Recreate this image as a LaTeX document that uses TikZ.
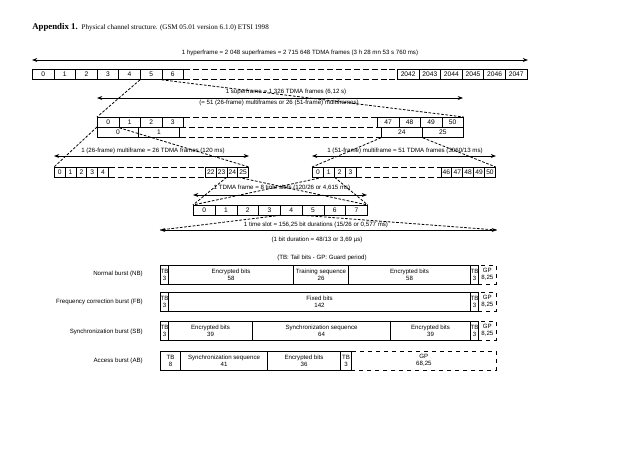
\documentclass[tikz,border=0pt]{standalone}
\usepackage{fontspec}
\setmainfont{Liberation Sans}
\newfontfamily\titlefont{Liberation Serif}
\usetikzlibrary{arrows.meta}

\newcommand{\lblfont}{\fontsize{4.6}{5.2}\selectfont}
\newcommand{\cellfont}{\fontsize{5}{5}\selectfont}

\tikzset{
  cellbox/.style={draw, line width=0.6pt, anchor=north west, inner sep=0pt,
    minimum width=#1*0.75pt, minimum height=10*0.75pt, font=\cellfont},
  burst/.style={cellbox=#1, line width=0.8pt, minimum height=18.5*0.75pt, align=center, font=\lblfont},
  gpbox/.style={burst=#1, line width=0.6pt, dashed},
  gapline/.style={line width=0.6pt, dash pattern=on 4.5pt off 2.2pt},
  zoomline/.style={line width=0.6pt, dash pattern=on 2pt off 1.2pt},
  span/.style={line width=0.6pt, {Stealth[length=4pt,width=3pt]}-{Stealth[length=4pt,width=3pt]}},
  lbl/.style={font=\lblfont, inner sep=0pt}
}

\begin{document}
\begin{tikzpicture}[x=0.75pt, y=-0.75pt]
\useasboundingbox (0,0) rectangle (638,451);
\node[anchor=west, inner sep=0pt] (title) at (32,27) {\titlefont{\fontsize{6.6}{7}\selectfont\bfseries Appendix 1.}\hspace{3pt}{\fontsize{5.3}{6}\selectfont Physical channel structure. (GSM 05.01 version 6.1.0) ETSI 1998}};

\node[lbl] (lblHyper) at (300,53) {1 hyperframe = 2 048 superframes = 2 715 648 TDMA frames (3 h 28 mn 53 s 760 ms)};
\coordinate (hypL) at (32,60);
\coordinate (hypR) at (528,60);
\draw[span] (hypL) -- (hypR);
\node[cellbox=21.6] (h0) at (32,69) {0};
\node[cellbox=21.6] (h1) at (53.6,69) {1};
\node[cellbox=21.6] (h2) at (75.2,69) {2};
\node[cellbox=21.6] (h3) at (96.8,69) {3};
\node[cellbox=21.6] (h4) at (118.4,69) {4};
\node[cellbox=21.6] (h5) at (140,69) {5};
\node[cellbox=21.6] (h6) at (161.6,69) {6};
\node[cellbox=21.6] (h2042) at (397,69) {2042};
\node[cellbox=21.6] (h2043) at (418.6,69) {2043};
\node[cellbox=21.6] (h2044) at (440.2,69) {2044};
\node[cellbox=21.6] (h2045) at (461.8,69) {2045};
\node[cellbox=21.6] (h2046) at (483.4,69) {2046};
\node[cellbox=21.6] (h2047) at (505,69) {2047};
\draw[gapline] (h6.north east) -- (h2042.north west);
\draw[gapline] (h6.south east) -- (h2042.south west);

\node[lbl] (lblSuper) at (286,92) {1 superframe = 1 326 TDMA frames (6,12 s)};
\node[lbl] (lblSuperEq) at (279,103) {(= 51 (26-frame) multiframes or 26 (51-frame) multiframes)};
\coordinate (supL) at (97,98);
\coordinate (supR) at (463,98);
\draw[span] (supL) -- (supR);
\node[cellbox=21.5] (s0) at (97,117) {0};
\node[cellbox=21.5] (s1) at (118.5,117) {1};
\node[cellbox=21.5] (s2) at (140,117) {2};
\node[cellbox=21.5] (s3) at (161.5,117) {3};
\node[cellbox=21.5] (s47) at (377,117) {47};
\node[cellbox=21.5] (s48) at (398.5,117) {48};
\node[cellbox=21.5] (s49) at (420,117) {49};
\node[cellbox=21.5] (s50) at (441.5,117) {50};
\node[cellbox=41] (t0) at (97,127) {0};
\node[cellbox=41] (t1) at (138,127) {1};
\node[cellbox=41] (t24) at (381,127) {24};
\node[cellbox=41] (t25) at (422,127) {25};
\draw[gapline] (s3.north east) -- (s47.north west);
\draw[gapline] (t1.north east) -- (t24.north west);
\draw[gapline] (t1.south east) -- (t24.south west);
\draw[zoomline] (h5.south west) -- (s0.north west);
\draw[zoomline] (h6.south west) -- (s50.north east);

\node[lbl] (lblMulti26) at (153,151) {1 (26-frame) multiframe = 26 TDMA frames (120 ms)};
\coordinate (m26L) at (54,156);
\coordinate (m26R) at (249,156);
\draw[span] (m26L) -- (m26R);
\node[cellbox=10.8, minimum height=9.5*0.75pt] (m0) at (54,167) {0};
\node[cellbox=10.8, minimum height=9.5*0.75pt] (m1) at (64.8,167) {1};
\node[cellbox=10.8, minimum height=9.5*0.75pt] (m2) at (75.6,167) {2};
\node[cellbox=10.8, minimum height=9.5*0.75pt] (m3) at (86.4,167) {3};
\node[cellbox=10.8, minimum height=9.5*0.75pt] (m4) at (97.2,167) {4};
\node[cellbox=10.8, minimum height=9.5*0.75pt] (m22) at (205,167) {22};
\node[cellbox=10.8, minimum height=9.5*0.75pt] (m23) at (215.8,167) {23};
\node[cellbox=10.8, minimum height=9.5*0.75pt] (m24) at (226.6,167) {24};
\node[cellbox=10.8, minimum height=9.5*0.75pt] (m25) at (237.4,167) {25};
\draw[gapline] (m4.north east) -- (m22.north west);
\draw[gapline] (m4.south east) -- (m22.south west);

\node[lbl] (lblMulti51) at (405,151) {1 (51-frame) multiframe = 51 TDMA frames (3060/13 ms)};
\coordinate (m51L) at (312,156);
\coordinate (m51R) at (496,156);
\draw[span] (m51L) -- (m51R);
\node[cellbox=10.9, minimum height=9.5*0.75pt] (n0) at (312,167) {0};
\node[cellbox=10.9, minimum height=9.5*0.75pt] (n1) at (322.9,167) {1};
\node[cellbox=10.9, minimum height=9.5*0.75pt] (n2) at (333.8,167) {2};
\node[cellbox=10.9, minimum height=9.5*0.75pt] (n3) at (344.7,167) {3};
\node[cellbox=10.9, minimum height=9.5*0.75pt] (n46) at (440.5,167) {46};
\node[cellbox=10.9, minimum height=9.5*0.75pt] (n47) at (451.4,167) {47};
\node[cellbox=10.9, minimum height=9.5*0.75pt] (n48) at (462.3,167) {48};
\node[cellbox=10.9, minimum height=9.5*0.75pt] (n49) at (473.2,167) {49};
\node[cellbox=10.9, minimum height=9.5*0.75pt] (n50) at (484.1,167) {50};
\draw[gapline] (n3.north east) -- (n46.north west);
\draw[gapline] (n3.south east) -- (n46.south west);
\draw[zoomline] (t0.north west) -- (m0.north west);
\draw[zoomline] (s0.south east) -- (m25.north east);
\draw[zoomline] (t24.south west) -- (n0.north west);
\draw[zoomline] (t24.south east) -- (n50.north east);

\node[lbl] (lblTdma) at (282,188) {1 TDMA frame = 8 time slots (120/26 or 4,615 ms)};
\coordinate (tdmaL) at (193,195);
\coordinate (tdmaR) at (367,195);
\draw[span] (tdmaL) -- (tdmaR);
\node[cellbox=21.75, minimum height=9.5*0.75pt] (f0) at (193,205) {0};
\node[cellbox=21.75, minimum height=9.5*0.75pt] (f1) at (214.75,205) {1};
\node[cellbox=21.75, minimum height=9.5*0.75pt] (f2) at (236.5,205) {2};
\node[cellbox=21.75, minimum height=9.5*0.75pt] (f3) at (258.25,205) {3};
\node[cellbox=21.75, minimum height=9.5*0.75pt] (f4) at (280,205) {4};
\node[cellbox=21.75, minimum height=9.5*0.75pt] (f5) at (301.75,205) {5};
\node[cellbox=21.75, minimum height=9.5*0.75pt] (f6) at (323.5,205) {6};
\node[cellbox=21.75, minimum height=9.5*0.75pt] (f7) at (345.25,205) {7};
\draw[zoomline] (m24.south west) -- (f0.north west);
\draw[zoomline] (m24.south east) -- (f7.north east);
\draw[zoomline] (n1.south west) -- (f0.north west);
\draw[zoomline] (n1.south east) -- (f7.north east);

\node[lbl] (lblSlot) at (316,225) {1 time slot = 156,25 bit durations (15/26 or 0,577 ms)};
\node[lbl] (lblBit) at (317,240) {(1 bit duration = 48/13 or 3,69 \textmu s)};
\coordinate (slotL) at (160,230);
\coordinate (slotR) at (497,230);
\draw[span] (slotL) -- (slotR);
\draw[zoomline] (f4.south west) -- (slotL);
\draw[zoomline] (f4.south east) -- (slotR);

\node[lbl] (lblLegend) at (322,258) {(TB: Tail bits - GP: Guard period)};

\node[lbl, anchor=east] (lblNB) at (143,274) {Normal burst (NB)};
\node[burst=8] (nbTb1) at (160,265) {TB\\3};
\node[burst=125] (nbEnc1) at (168,265) {Encrypted bits\\58};
\node[burst=55] (nbTrain) at (293,265) {Training sequence\\26};
\node[burst=122] (nbEnc2) at (348,265) {Encrypted bits\\58};
\node[burst=8] (nbTb2) at (470,265) {TB\\3};
\node[gpbox=18] (nbGp) at (478,265) {GP\\8,25};

\node[lbl, anchor=east] (lblFB) at (143,302) {Frequency correction burst (FB)};
\node[burst=8] (fbTb1) at (160,292) {TB\\3};
\node[burst=302] (fbFix) at (168,292) {Fixed bits\\142};
\node[burst=8] (fbTb2) at (470,292) {TB\\3};
\node[gpbox=18] (fbGp) at (478,292) {GP\\8,25};

\node[lbl, anchor=east] (lblSB) at (143,332) {Synchronization burst (SB)};
\node[burst=8] (sbTb1) at (160,321) {TB\\3};
\node[burst=84] (sbEnc1) at (168,321) {Encrypted bits\\39};
\node[burst=138] (sbSync) at (252,321) {Synchronization sequence\\64};
\node[burst=80] (sbEnc2) at (390,321) {Encrypted bits\\39};
\node[burst=8] (sbTb2) at (470,321) {TB\\3};
\node[gpbox=18] (sbGp) at (478,321) {GP\\8,25};

\node[lbl, anchor=east] (lblAB) at (143,361) {Access burst (AB)};
\node[burst=20] (abTb1) at (160,351) {TB\\8};
\node[burst=87] (abSync) at (180,351) {Synchronization sequence\\41};
\node[burst=73] (abEnc) at (267,351) {Encrypted bits\\36};
\node[burst=11] (abTb2) at (340,351) {TB\\3};
\node[gpbox=145] (abGp) at (351,351) {GP\\68,25};
\end{tikzpicture}
\end{document}
